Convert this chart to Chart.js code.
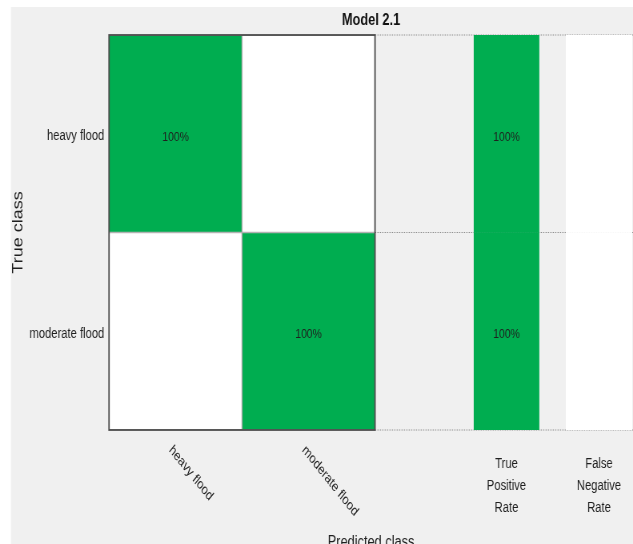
<!DOCTYPE html>
<html>
<head>
<meta charset="utf-8">
<script src="https://cdn.jsdelivr.net/npm/chart.js@4.4.1/dist/chart.umd.min.js"></script>
<style>
  html, body { margin: 0; padding: 0; background: #fff; overflow: hidden; }
  /* drawn wide, then squeezed horizontally to get the narrow lettering */
  #wrap { width: 791px; height: 544px; transform: scaleX(0.8003); transform-origin: 0 0; }
</style>
</head>
<body>
<div id="wrap"><canvas id="cm" width="791" height="544"></canvas></div>
<script>
// confusion matrix, row-normalised (%), rows = true class
const trueClasses = ['heavy flood', 'moderate flood'];
const predictedClasses = ['heavy flood', 'moderate flood'];
const heavyFloodRow = [100, 0];
const moderateFloodRow = [0, 100];
const truePositiveRate = [100, 100];
const falseNegativeRate = [0, 0];
const rateLabels = [['True', 'Positive', 'Rate'], ['False', 'Negative', 'Rate']];

// x axis layout: class i sits on [i, i+1], summary columns to the right
const rateSpans = [[2.744, 3.233], [3.436, 3.932]];
const xMax = 3.94;

const GREEN = '#00ad50';
const INK = '#1f1f1f';
const FONT = "'Liberation Sans', Arial, sans-serif";

function shade(v) {
  return v > 0 ? GREEN : '#ffffff';
}

const rows = [heavyFloodRow, moderateFloodRow];
const datasets = [];

predictedClasses.forEach((name, j) => {
  const vals = rows.map((r) => r[j]);
  datasets.push({
    label: name,
    data: trueClasses.map(() => [j, j + 1]),
    pct: vals,
    backgroundColor: vals.map(shade),
    borderColor: '#a3a3a3',
    borderWidth: 1,
    borderSkipped: false,
  });
});

[truePositiveRate, falseNegativeRate].forEach((vals, k) => {
  datasets.push({
    label: rateLabels[k].join(' '),
    data: trueClasses.map(() => rateSpans[k]),
    pct: vals,
    backgroundColor: vals.map(shade),
    borderWidth: 0,
  });
});

const decor = {
  id: 'decor',
  beforeDraw(chart) {
    const { ctx, width, height } = chart;
    ctx.save();
    ctx.fillStyle = '#ffffff';
    ctx.fillRect(0, 0, width, height);
    ctx.fillStyle = '#f0f0f0';
    ctx.fillRect(13.75, 7, width, height);
    ctx.restore();
  },
  beforeDatasetsDraw(chart) {
    // dotted row separators behind the summary columns
    const { ctx, chartArea } = chart;
    const x = chart.scales.x, y = chart.scales.y;
    const mid = (y.getPixelForValue(0) + y.getPixelForValue(1)) / 2;
    ctx.save();
    ctx.strokeStyle = '#8c8c8c';
    ctx.lineWidth = 1;
    ctx.setLineDash([1.5, 1.5]);
    [chartArea.top, mid, chartArea.bottom].forEach((py) => {
      ctx.beginPath();
      ctx.moveTo(x.getPixelForValue(2), py);
      ctx.lineTo(chartArea.right, py);
      ctx.stroke();
    });
    ctx.restore();
  },
  afterDatasetsDraw(chart) {
    const { ctx, chartArea } = chart;
    const x = chart.scales.x;
    ctx.save();
    // frame round the matrix
    const x0 = x.getPixelForValue(0), x2 = x.getPixelForValue(predictedClasses.length);
    ctx.strokeStyle = '#4d4d4d';
    ctx.lineWidth = 1.8;
    ctx.strokeRect(x0, chartArea.top, x2 - x0, chartArea.bottom - chartArea.top);

    // percentages in the filled cells
    ctx.fillStyle = INK;
    ctx.font = '13px ' + FONT;
    ctx.textAlign = 'center';
    ctx.textBaseline = 'middle';
    chart.data.datasets.forEach((ds, i) => {
      chart.getDatasetMeta(i).data.forEach((bar, k) => {
        if (ds.pct[k] > 0) {
          const c = bar.getCenterPoint();
          ctx.fillText(ds.pct[k] + '%', c.x, c.y + 3.5);
        }
      });
    });
    ctx.restore();
  },
  afterDraw(chart) {
    const { ctx, chartArea } = chart;
    const x = chart.scales.x;
    ctx.save();
    ctx.fillStyle = INK;
    ctx.font = '14px ' + FONT;

    // slanted class names under the matrix
    predictedClasses.forEach((name, j) => {
      ctx.save();
      ctx.translate(x.getPixelForValue(j + 0.5) - 6, chartArea.bottom + 18);
      ctx.rotate(Math.PI / 4);
      ctx.textAlign = 'left';
      ctx.textBaseline = 'middle';
      ctx.fillText(name, 0, 0);
      ctx.restore();
    });

    // stacked captions for the summary columns
    ctx.textAlign = 'center';
    ctx.textBaseline = 'middle';
    rateLabels.forEach((lines, k) => {
      const cx = x.getPixelForValue((rateSpans[k][0] + rateSpans[k][1]) / 2);
      lines.forEach((t, n) => {
        ctx.fillText(t, cx, chartArea.bottom + 34 + n * 22);
      });
    });
    ctx.restore();
  },
};

new Chart(document.getElementById('cm'), {
  type: 'bar',
  data: { labels: trueClasses, datasets: datasets },
  plugins: [decor],
  options: {
    indexAxis: 'y',
    responsive: false,
    animation: false,
    datasets: {
      bar: { grouped: false, categoryPercentage: 1, barPercentage: 1 },
    },
    layout: { padding: 0 },
    plugins: {
      legend: { display: false },
      tooltip: { enabled: false },
      title: {
        display: true,
        text: 'Model 2.1',
        fullSize: false,
        color: '#111',
        font: { family: FONT, size: 16, weight: 'bold' },
        padding: { top: 10.5, bottom: 5.3 },
      },
    },
    scales: {
      x: {
        type: 'linear',
        min: 0,
        max: xMax,
        grid: { display: false },
        border: { display: false },
        ticks: { display: false },
        title: {
          display: true,
          text: 'Predicted class',
          color: INK,
          font: { family: FONT, size: 16 },
          padding: { top: 0, bottom: -8.6 },
        },
        afterFit(scale) { scale.height = 114; },
      },
      y: {
        grid: { display: false, drawTicks: false },
        border: { display: false },
        ticks: {
          color: INK,
          padding: 6,
          labelOffset: 2.5,
          font: { family: FONT, size: 14 },
        },
        title: {
          display: true,
          text: 'True class',
          color: INK,
          font: { family: FONT, size: 18 },
          padding: { top: 12, bottom: 0 },
        },
        afterFit(scale) { scale.width = 136.25; },
      },
    },
  },
});
</script>
</body>
</html>
